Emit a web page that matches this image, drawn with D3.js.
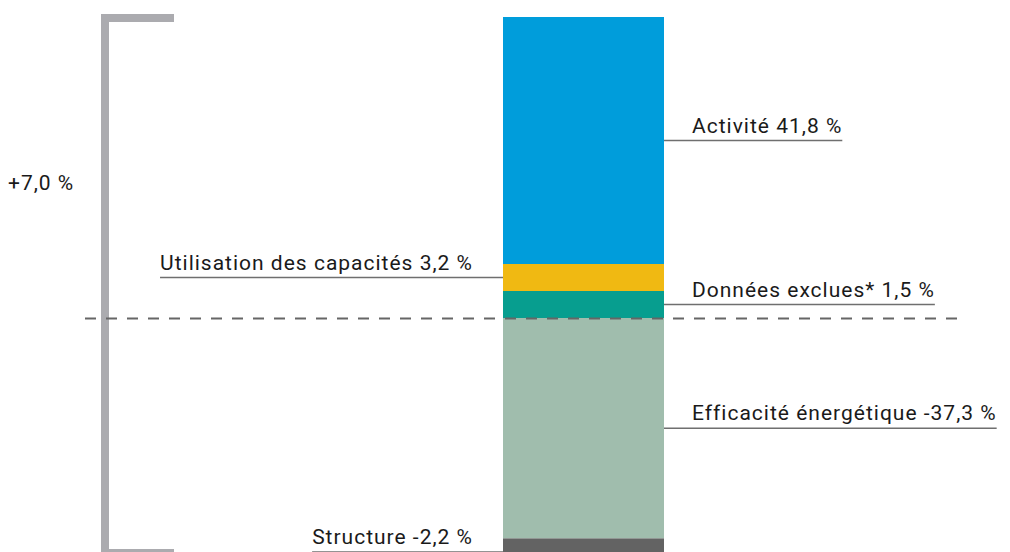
<!DOCTYPE html>
<html><head><meta charset="utf-8">
<script src="https://cdn.jsdelivr.net/npm/d3@7"></script>
<style>body{margin:0;background:#fff}svg{display:block}text{font-family:Roboto,"DejaVu Sans",sans-serif;font-size:21px;letter-spacing:1px;fill:#1a1a1a}</style>
</head><body><svg id="c" width="1010" height="552"></svg>
<script>
// Data (order: stacked from the zero line outward)
const positiveLabels = ["Données exclues* 1,5 %", "Utilisation des capacités 3,2 %", "Activité 41,8 %"];
const positiveValues = [1.5, 3.2, 41.8];
const positiveColors = ["#079e8f", "#f0b912", "#009ddb"];
const positiveSides = ["right", "left", "right"];
const negativeLabels = ["Efficacité énergétique -37,3 %", "Structure -2,2 %"];
const negativeValues = [-37.3, -2.2];
const negativeColors = ["#a0bdad", "#636363"];
const negativeSides = ["right", "left"];
const totalLabel = "+7,0 %";

const svg = d3.select("#c");
const zeroY = 318;
const minH = 27;
const hScale = d3.scaleLinear().domain([0, 41.8]).range([0, 247]);
const x = d3.scaleBand().domain(["bar"]).range([503, 664]).padding(0);

function stack(values, labels, colors, sides, dir) {
  let cur = zeroY;
  return values.map((v, i) => {
    const h = Math.max(minH, hScale(Math.abs(v)));
    const y0 = cur, y1 = cur + dir * h;
    cur = y1;
    return {v, label: labels[i], color: colors[i], side: sides[i], top: Math.min(y0, y1), h};
  });
}
const segs = stack(positiveValues, positiveLabels, positiveColors, positiveSides, -1)
  .concat(stack(negativeValues, negativeLabels, negativeColors, negativeSides, 1));

const topY = d3.min(segs, d => d.top);

// bracket
const bx = 105;
svg.append("path")
  .attr("d", `M174,${topY + 1}H${bx}V553H174`)
  .attr("fill", "none").attr("stroke", "#ababaf").attr("stroke-width", 8);

svg.append("text").attr("x", 8).attr("y", 190).text(totalLabel);

// bar segments
svg.selectAll("rect.seg").data(segs).join("rect")
  .attr("x", x("bar")).attr("width", x.bandwidth())
  .attr("y", d => d.top).attr("height", d => d.h)
  .attr("fill", d => d.color);

// dashed zero line
svg.append("line").attr("x1", 85).attr("x2", 965).attr("y1", zeroY + 0.5).attr("y2", zeroY + 0.5)
  .attr("stroke", "#666").attr("stroke-width", 2.2).attr("stroke-dasharray", "11,10");

// labels
segs.forEach(d => {
  const my = d.top + d.h / 2;
  const t = svg.append("text").attr("y", my - 8).text(d.label);
  const w = t.node().getComputedTextLength();
  let x1, x2;
  if (d.side === "right") {
    t.attr("x", x.range()[1] + 28);
    x1 = x.range()[1]; x2 = x.range()[1] + 28 + w;
  } else {
    const tx = x.range()[0] - 30 - w;
    t.attr("x", tx);
    x1 = tx; x2 = x.range()[0];
  }
  svg.append("line").attr("x1", x1).attr("x2", x2).attr("y1", my).attr("y2", my)
    .attr("stroke", "#6f6f6f").attr("stroke-width", 1.5);
});
</script></body></html>
